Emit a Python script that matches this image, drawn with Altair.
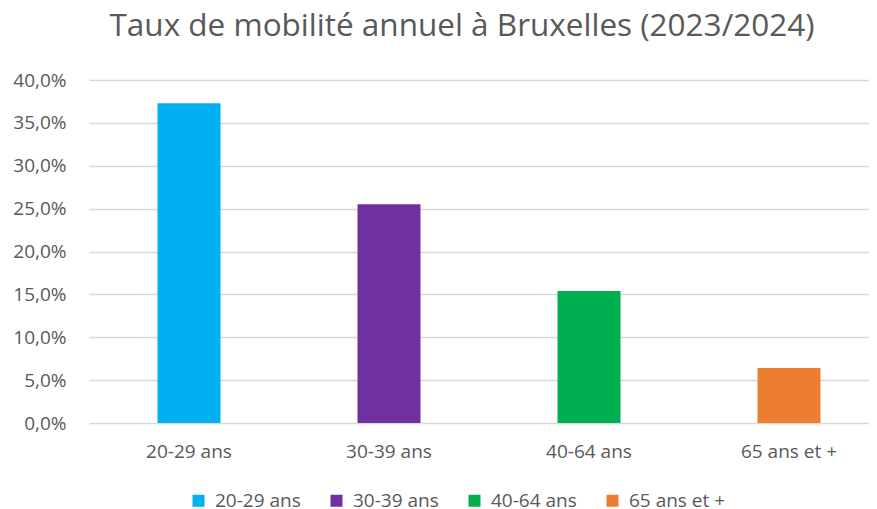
import altair as alt
import pandas as pd

categories = ["20-29 ans", "30-39 ans", "40-64 ans", "65 ans et +"]
values = [0.373, 0.255, 0.154, 0.064]
colors = ["#00b0f0", "#7030a0", "#00b050", "#ed7d31"]
y_ticks = [0, 0.05, 0.10, 0.15, 0.20, 0.25, 0.30, 0.35, 0.40]

df = pd.DataFrame({"cat": categories, "val": values})

FONT = "Open Sans"
GREY = "#595959"

chart = alt.Chart(df, title=alt.Title(
    "Taux de mobilité annuel à Bruxelles (2023/2024)",
    fontSize=31.5, font=FONT, color=GREY, fontWeight="normal",
    anchor="middle", dx=-17, dy=-25,
)).mark_bar(size=63).encode(
    x=alt.X("cat:N", sort=categories,
            scale=alt.Scale(range=[0, 800], paddingInner=0, paddingOuter=0),
            axis=alt.Axis(title=None, labelAngle=0, domain=False, ticks=False,
                          labelPadding=19, labelFontSize=19, labelColor=GREY,
                          labelFont=FONT, grid=False)),
    y=alt.Y("val:Q", scale=alt.Scale(domain=[0, 0.4], nice=False),
            axis=alt.Axis(title=None, values=y_ticks,
                          labelExpr="replace(format(datum.value, '.1%'), '.', ',')",
                          domain=False, ticks=False, labelPadding=23,
                          labelFontSize=19, labelColor=GREY, labelFont=FONT,
                          gridColor="#d9d9d9", gridWidth=1.5)),
    color=alt.Color("cat:N", scale=alt.Scale(domain=categories, range=colors),
                    legend=alt.Legend(title=None, orient="none", legendX=100, legendY=411,
                                      direction="horizontal", symbolType="square",
                                      symbolSize=144, symbolStrokeWidth=0,
                                      labelFontSize=19, labelColor=GREY, labelFont=FONT,
                                      labelOffset=7, columnPadding=26, padding=0)),
).properties(
    width=780, height=343,
    autosize=alt.AutoSizeParams(type="none"),
    padding={"left": 81, "top": 72, "right": 0, "bottom": 95},
).configure_view(stroke=None)

chart.save("out.html", embed_options={"renderer": "svg", "actions": False})
